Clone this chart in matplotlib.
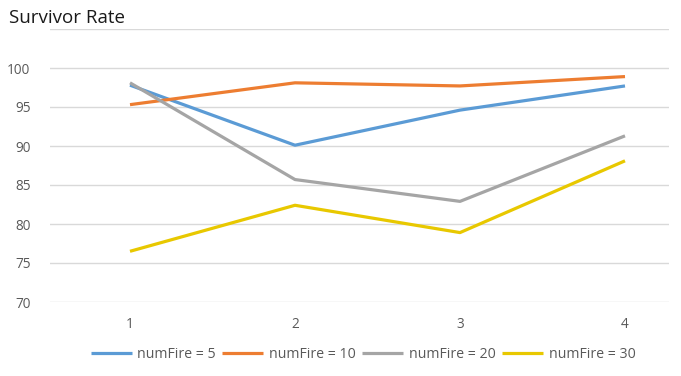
import matplotlib
matplotlib.use("Agg")
import matplotlib.pyplot as plt

categories = [1, 2, 3, 4]
series_names = ["numFire = 5", "numFire = 10", "numFire = 20", "numFire = 30"]
fire5 = [97.8, 90.1, 94.6, 97.7]
fire10 = [95.3, 98.1, 97.7, 98.9]
fire20 = [98.1, 85.7, 82.9, 91.3]
fire30 = [76.5, 82.4, 78.9, 88.1]
y_ticks = [70, 75, 80, 85, 90, 95, 100]

colors = ["#5B9BD5", "#ED7D31", "#A5A5A5", "#E8C800"]

plt.rcParams['font.family'] = ['Open Sans', 'DejaVu Sans']

fig = plt.figure(figsize=(6.81, 3.76), dpi=100)
ax = fig.add_axes([50/681, 74/376, 619/681, 273/376])

for vals, name, c in zip([fire5, fire10, fire20, fire30], series_names, colors):
    ax.plot(categories, vals, color=c, lw=2.3, label=name, solid_capstyle='butt')

ax.set_ylim(70, 105)
ax.set_xlim(1 - 80/165, 4 + 44/165)
ax.set_yticks(y_ticks + [105])
ax.set_yticklabels([str(v) for v in y_ticks] + [""])
ax.set_xticks(categories)
ax.set_xticklabels([str(c) for c in categories])
ax.grid(axis='y', color='#D9D9D9', lw=1)
ax.set_axisbelow(True)
for s in ax.spines.values():
    s.set_visible(False)
ax.tick_params(axis='both', length=0, colors='#595959', labelsize=9.8)
ax.tick_params(axis='y', pad=14)
ax.tick_params(axis='x', pad=11)

fig.text(9/681, 1 - 18/376, "Survivor Rate", fontsize=13.5, color='#1a1a1a', va='center', ha='left')

leg = fig.legend(loc='center', bbox_to_anchor=(363/681, 1 - 354/376), ncol=4, frameon=False,
                 fontsize=10.2, handlelength=2.9, handletextpad=0.4, columnspacing=0.45)
for t in leg.get_texts():
    t.set_color('#595959')

fig.savefig("out.png", dpi=100)
